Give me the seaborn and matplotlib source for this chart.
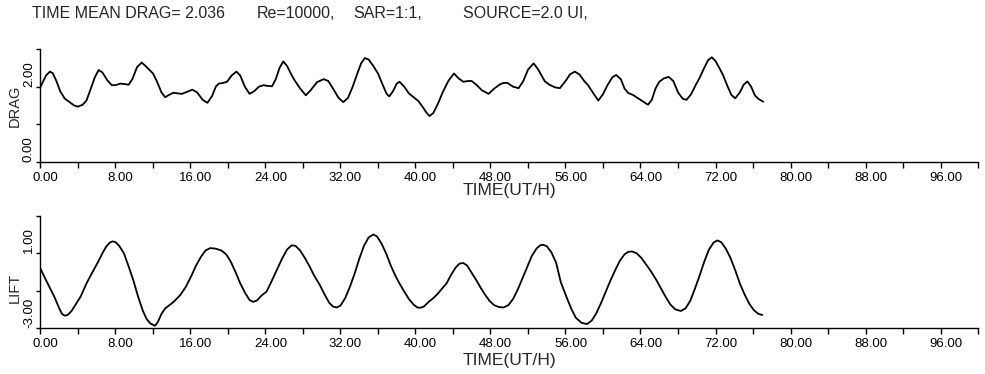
import numpy as np
import pandas as pd
import matplotlib
matplotlib.use("Agg")
import matplotlib.pyplot as plt
import matplotlib.transforms as mtrans
import seaborn as sns

# ---- data ----
drag_t = [0.0, 0.3, 0.6, 1.0, 1.3, 1.7, 2.1, 2.6, 3.2, 3.6, 4.0, 4.5, 4.9, 5.3, 5.8, 6.2,
          6.6, 7.1, 7.6, 8.0, 8.5, 9.0, 9.4, 9.8, 10.3, 10.8, 11.2, 11.6, 12.0, 12.4, 12.9,
          13.3, 13.7, 14.2, 14.7, 15.1, 15.6, 16.2, 16.7, 17.3, 17.8, 18.3, 18.7, 19.0,
          19.5, 19.9, 20.4, 20.9, 21.3, 21.8, 22.3, 22.8, 23.3, 23.8, 24.2, 24.7, 25.1,
          25.5, 25.9, 26.3, 26.7, 27.1, 27.7, 28.3, 28.8, 29.5, 30.2, 30.7, 31.2, 31.8,
          32.3, 32.8, 33.3, 33.8, 34.2, 34.6, 35.0, 35.5, 36.0, 36.5, 36.9, 37.2, 37.6,
          38.0, 38.3, 38.8, 39.3, 39.8, 40.3, 40.8, 41.2, 41.5, 41.9, 42.4, 42.9, 43.5,
          44.1, 44.6, 45.1, 45.6, 46.0, 46.5, 47.1, 47.8, 48.4, 49.0, 49.4, 49.8, 50.4,
          51.0, 51.5, 52.0, 52.6, 53.1, 53.8, 54.3, 54.9, 55.4, 56.0, 56.5, 57.0, 57.5,
          58.0, 58.4, 58.9, 59.5, 60.0, 60.5, 61.0, 61.4, 61.9, 62.3, 62.7, 63.2, 63.8,
          64.3, 64.8, 65.2, 65.6, 66.0, 66.5, 67.0, 67.5, 68.0, 68.5, 68.9, 69.4, 69.9,
          70.3, 70.8, 71.2, 71.6, 72.0, 72.4, 72.8, 73.3, 73.7, 74.1, 74.6, 75.0, 75.4,
          75.8, 76.2, 76.6, 77.1]
drag_v = [1.99, 2.15, 2.30, 2.40, 2.36, 2.15, 1.88, 1.68, 1.57, 1.50, 1.47, 1.52, 1.63,
          1.90, 2.25, 2.44, 2.38, 2.18, 2.04, 2.04, 2.08, 2.07, 2.05, 2.20, 2.52, 2.64,
          2.55, 2.45, 2.35, 2.15, 1.85, 1.72, 1.78, 1.84, 1.82, 1.81, 1.86, 1.92, 1.85,
          1.65, 1.57, 1.75, 2.00, 2.08, 2.10, 2.13, 2.30, 2.40, 2.30, 2.00, 1.81, 1.88,
          2.00, 2.04, 2.02, 2.01, 2.20, 2.50, 2.67, 2.55, 2.35, 2.17, 1.95, 1.77, 1.90,
          2.12, 2.20, 2.15, 1.95, 1.70, 1.59, 1.70, 2.00, 2.35, 2.62, 2.76, 2.72, 2.55,
          2.35, 2.05, 1.82, 1.74, 1.88, 2.08, 2.13, 2.00, 1.82, 1.72, 1.62, 1.45, 1.30,
          1.22, 1.30, 1.55, 1.85, 2.15, 2.35, 2.22, 2.13, 2.15, 2.15, 2.05, 1.90, 1.81,
          1.95, 2.06, 2.10, 2.10, 2.00, 1.96, 2.15, 2.45, 2.62, 2.45, 2.14, 2.05, 1.98,
          1.96, 2.15, 2.33, 2.40, 2.32, 2.15, 2.04, 1.85, 1.63, 1.80, 2.05, 2.25, 2.31,
          2.20, 1.95, 1.83, 1.78, 1.68, 1.60, 1.52, 1.65, 1.95, 2.13, 2.22, 2.26, 2.15,
          1.85, 1.68, 1.65, 1.80, 2.05, 2.23, 2.50, 2.70, 2.78, 2.68, 2.50, 2.31, 2.00,
          1.78, 1.69, 1.85, 2.05, 2.14, 2.00, 1.77, 1.67, 1.60]

lift_t = [0.0, 0.5, 1.0, 1.5, 2.0, 2.3, 2.6, 2.9, 3.3, 3.8, 4.3, 4.9, 5.5, 6.1, 6.6, 7.0,
          7.4, 7.7, 8.0, 8.4, 8.9, 9.4, 9.9, 10.4, 10.9, 11.3, 11.7, 12.2, 12.5, 12.9, 13.3,
          13.7, 14.2, 14.9, 15.5, 16.1, 16.6, 17.1, 17.6, 18.1, 18.7, 19.3, 19.8, 20.3,
          20.8, 21.3, 21.8, 22.3, 22.7, 23.1, 23.6, 24.1, 24.6, 25.2, 25.8, 26.3, 26.8,
          27.2, 27.7, 28.2, 28.7, 29.2, 29.8, 30.3, 30.8, 31.2, 31.6, 32.0, 32.5, 33.0,
          33.5, 34.0, 34.5, 35.0, 35.5, 35.9, 36.4, 36.9, 37.4, 37.9, 38.3, 38.8, 39.3,
          39.8, 40.2, 40.5, 40.9, 41.4, 41.9, 42.4, 42.9, 43.3, 43.8, 44.3, 44.7, 45.1,
          45.5, 46.0, 46.5, 46.9, 47.4, 47.9, 48.4, 48.9, 49.4, 49.9, 50.4, 50.9, 51.4,
          51.9, 52.4, 52.9, 53.3, 53.6, 54.0, 54.5, 55.0, 55.5, 56.1, 56.6, 57.1, 57.7,
          58.3, 58.8, 59.3, 59.8, 60.3, 60.8, 61.3, 61.8, 62.3, 62.7, 63.1, 63.6, 64.1,
          64.6, 65.1, 65.7, 66.2, 66.7, 67.2, 67.7, 68.3, 68.8, 69.3, 69.8, 70.3, 70.8,
          71.3, 71.8, 72.2, 72.6, 73.1, 73.6, 74.1, 74.6, 75.1, 75.6, 76.1, 76.6, 77.0]
lift_v = [0.18, -0.35, -0.85, -1.35, -1.95, -2.25, -2.34, -2.30, -2.10, -1.70, -1.30,
          -0.62, -0.05, 0.50, 1.00, 1.35, 1.58, 1.64, 1.60, 1.40, 1.00, 0.30, -0.44, -1.30,
          -2.05, -2.50, -2.75, -2.88, -2.70, -2.25, -1.95, -1.80, -1.60, -1.24, -0.80,
          -0.20, 0.35, 0.80, 1.15, 1.28, 1.25, 1.15, 0.95, 0.55, 0.00, -0.60, -1.10,
          -1.50, -1.60, -1.52, -1.25, -1.06, -0.55, 0.10, 0.75, 1.20, 1.43, 1.40, 1.15,
          0.75, 0.30, -0.20, -0.70, -1.20, -1.65, -1.85, -1.90, -1.80, -1.40, -0.80,
          -0.10, 0.70, 1.40, 1.85, 2.01, 1.90, 1.50, 0.95, 0.30, -0.25, -0.62, -1.05,
          -1.45, -1.75, -1.90, -1.92, -1.85, -1.60, -1.40, -1.15, -0.85, -0.62, -0.15,
          0.25, 0.45, 0.48, 0.35, -0.05, -0.45, -0.80, -1.20, -1.55, -1.78, -1.88, -1.90,
          -1.78, -1.45, -0.95, -0.35, 0.25, 0.85, 1.25, 1.43, 1.46, 1.38, 1.05, 0.50,
          -0.55, -1.33, -1.95, -2.45, -2.72, -2.79, -2.60, -2.20, -1.65, -1.05, -0.45,
          0.10, 0.60, 0.95, 1.08, 1.10, 1.00, 0.75, 0.40, 0.05, -0.44, -0.90, -1.35,
          -1.75, -2.00, -2.09, -1.95, -1.55, -0.90, -0.20, 0.55, 1.20, 1.58, 1.69, 1.60,
          1.25, 0.75, 0.10, -0.62, -1.20, -1.70, -2.05, -2.25, -2.30]

title_parts = ["TIME MEAN DRAG= 2.036", "Re=10000,", "SAR=1:1,", "SOURCE=2.0 UI,"]
x_label = "TIME(UT/H)"
x_ticks = [0, 8, 16, 24, 32, 40, 48, 56, 64, 72, 80, 88, 96]
x_minor = [4, 12, 20, 28, 36, 44, 52, 60, 68, 76, 84, 92, 100]
drag_ticks = [0, 1, 2, 3]
drag_labels = ["0.00", "", "2.00", ""]
lift_ticks = [-3, -1, 1, 3]
lift_labels = ["-3.00", "", "1.00", ""]

sns.set_theme(style="ticks")
fam = ["Liberation Sans", "DejaVu Sans"]
plt.rcParams["font.family"] = fam
plt.rcParams["axes.edgecolor"] = "black"
plt.rcParams["xtick.color"] = "black"
plt.rcParams["ytick.color"] = "black"

fig = plt.figure(figsize=(9.85, 3.74), dpi=100)
ax1 = fig.add_axes([0.0411, 0.5668, 0.9518, 0.3022])
ax2 = fig.add_axes([0.0411, 0.1230, 0.9518, 0.2995])

df_d = pd.DataFrame({"t": drag_t, "v": drag_v})
df_l = pd.DataFrame({"t": lift_t, "v": lift_v})
sns.lineplot(data=df_d, x="t", y="v", ax=ax1, color="black", linewidth=1.3)
sns.lineplot(data=df_l, x="t", y="v", ax=ax2, color="black", linewidth=1.3)

for ax, yt, yl, ylim, name, ypos in [(ax1, drag_ticks, drag_labels, (0, 3), "DRAG", 0.5),
                                     (ax2, lift_ticks, lift_labels, (-3, 3), "LIFT", 0.36)]:
    ax.set_xlim(0, 100)
    ax.set_ylim(*ylim)
    ax.set_xticks(x_ticks)
    ax.set_xticklabels([f"{v:.2f}" for v in x_ticks], fontsize=9.5)
    ax.set_xticks(x_minor, minor=True)
    ax.set_yticks(yt)
    ax.set_yticklabels(yl, rotation=90, va="bottom", fontsize=9.5)
    ax.tick_params(axis="x", which="both", direction="out", length=4, width=1, pad=3)
    ax.tick_params(axis="y", which="both", direction="out", length=3, width=1, pad=1)
    for lab in ax.get_xticklabels():
        lab.set_transform(lab.get_transform() + mtrans.ScaledTranslation(5 / 100, 0, fig.dpi_scale_trans))
    ax.set_xlabel(x_label, fontsize=12.5, labelpad=0)
    ax.set_ylabel(name, fontsize=10.5, labelpad=1, va="center")
    ax.yaxis.set_label_coords(-(40.5 - 15) / 937.5, ypos)
    sns.despine(ax=ax)
    ax.spines["left"].set_linewidth(1)
    ax.spines["bottom"].set_linewidth(1)

# place x labels at the reference heights
ax1.xaxis.set_label_coords(0.5, -(190 - 162) / 113)
ax2.xaxis.set_label_coords(0.5, -(360 - 328) / 112)
for lab in (ax1.xaxis.label, ax2.xaxis.label):
    lab.set_va("center")

for txt, xp in zip(title_parts, [32, 257, 353, 463]):
    fig.text(xp / 985, 1 - 14 / 374, txt, fontsize=11.5, va="center", ha="left")

fig.savefig("out.png", dpi=100, facecolor="white")
